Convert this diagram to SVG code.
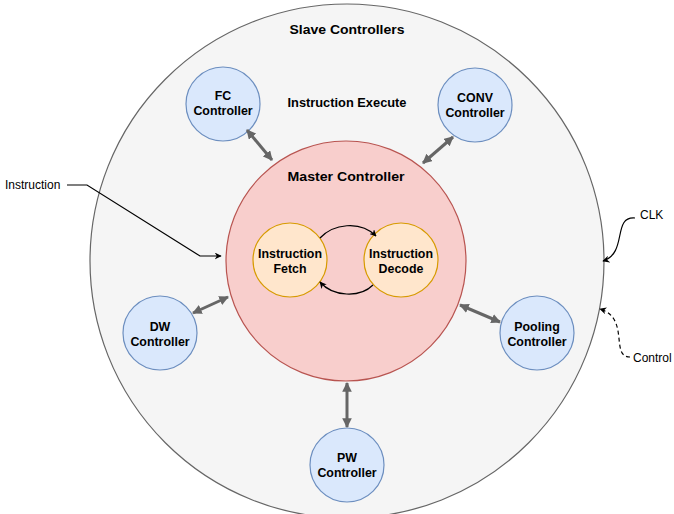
<svg xmlns="http://www.w3.org/2000/svg" width="674" height="514" viewBox="0 0 674 514">
<style>
text{font-family:"Liberation Sans",Arial,sans-serif;font-weight:bold;font-size:12.4px;fill:#000;text-anchor:middle}
.plain{font-weight:normal;text-anchor:start;font-size:12px}
.ctl{fill:#dae8fc;stroke:#6c8ebf;stroke-width:1.2}
.stage{fill:#ffe6cc;stroke:#d79b00;stroke-width:1.2}
.bi{stroke:#666;stroke-width:3;fill:none;marker-start:url(#gh);marker-end:url(#gh)}
.blk{stroke:#000;stroke-width:1.2;fill:none;marker-end:url(#bh)}
</style>
<defs>
<marker id="gh" viewBox="0 0 10 10" refX="9" refY="5" markerWidth="3.2" markerHeight="3.2" orient="auto-start-reverse" markerUnits="strokeWidth"><path d="M0,0 L10,5 L0,10 z" fill="#666"/></marker>
<marker id="bh" viewBox="0 0 10 10" refX="9" refY="5" markerWidth="7" markerHeight="7" orient="auto" markerUnits="userSpaceOnUse"><path d="M0,0 L10,5 L0,10 L3,5 z" fill="#000"/></marker>
</defs>
<g id="slave">
<circle cx="347" cy="261" r="257" fill="#f5f5f5" stroke="#666" stroke-width="1.2"/>
<text x="347" y="33.5" font-size="14" textLength="115" lengthAdjust="spacingAndGlyphs">Slave Controllers</text>
<text x="347" y="107" font-size="13" textLength="119" lengthAdjust="spacingAndGlyphs">Instruction Execute</text>
</g>
<g id="master">
<circle cx="346" cy="261" r="120" fill="#f8cecc" stroke="#b85450" stroke-width="1.2"/>
<text x="346" y="181" font-size="14.5" textLength="117" lengthAdjust="spacingAndGlyphs">Master Controller</text>
</g>
<g id="fetch"><circle class="stage" cx="290" cy="260" r="37"/><text x="290" y="258">Instruction</text><text x="290" y="273">Fetch</text></g>
<g id="decode"><circle class="stage" cx="401" cy="260" r="37"/><text x="401" y="258">Instruction</text><text x="401" y="273">Decode</text></g>
<g id="fc"><circle class="ctl" cx="223" cy="104" r="37"/><text x="223" y="100">FC</text><text x="223" y="115">Controller</text></g>
<g id="conv"><circle class="ctl" cx="475" cy="105" r="37"/><text x="475" y="102">CONV</text><text x="475" y="117">Controller</text></g>
<g id="dw"><circle class="ctl" cx="160" cy="333" r="37"/><text x="160" y="331">DW</text><text x="160" y="346">Controller</text></g>
<g id="pool"><circle class="ctl" cx="537" cy="333" r="37"/><text x="537" y="331">Pooling</text><text x="537" y="346">Controller</text></g>
<g id="pw"><circle class="ctl" cx="347" cy="465" r="37"/><text x="347" y="462">PW</text><text x="347" y="477">Controller</text></g>
<g id="labels">
<text class="plain" x="5" y="189">Instruction</text>
<text class="plain" x="640" y="219">CLK</text>
<text class="plain" x="633" y="362">Control</text>
</g>
<g id="connectors">
<path class="bi" d="M247,130 L272,160"/>
<path class="bi" d="M453,137 L423,163"/>
<path class="bi" d="M193,313 L228,297"/>
<path class="bi" d="M460,305 L500,322"/>
<path class="bi" d="M347,383 L347,427"/>
<path class="blk" d="M320,238 C333,224 360,220 376,236"/>
<path class="blk" d="M373,285 C360,298 333,297 320,282"/>
<path class="blk" d="M67,185 L87,185 L200,256 L221,256"/>
<path class="blk" d="M635,218 C612,216 628,253 603,261"/>
<path class="blk" d="M630,357 C610,357 630,318 600,309" stroke-dasharray="4 3"/>
</g>
</svg>
